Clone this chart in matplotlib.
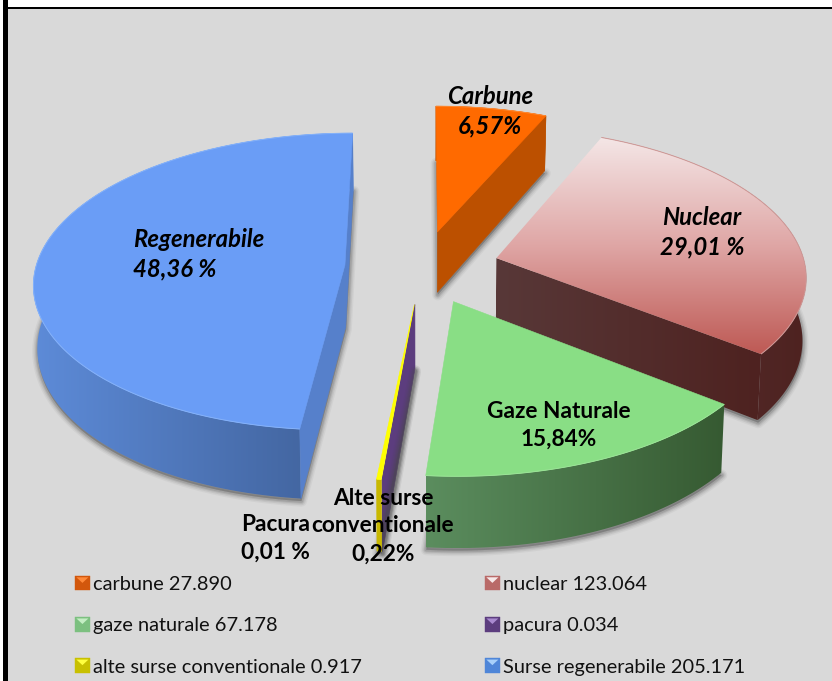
import numpy as np
import matplotlib
matplotlib.use("Agg")
import matplotlib.pyplot as plt
from matplotlib.patches import Polygon, Rectangle
from matplotlib.colors import to_rgb
from matplotlib.legend_handler import HandlerBase

# ---- data ----
series_names = ["carbune", "nuclear", "gaze naturale", "pacura",
                "alte surse conventionale", "Surse regenerabile"]
legend_values = ["27.890", "123.064", "67.178", "0.034", "0.917", "205.171"]
values = [27.890, 123.064, 67.178, 0.034, 0.917, 205.171]
slice_labels = ["Carbune\n6,57%", "Nuclear\n29,01 %", "Gaze Naturale\n15,84%",
                "Pacura\n0,01 %", "Alte surse\nconventionale\n0,22%",
                "Regenerabile\n48,36 %"]

# ---- projection / layout ----
W, H = 832, 681
CX, CY = 422, 267
A, B = 309, 147
K = 0.111
EXPLODE = 0.25
DEPTH = 62
BOTTOM_X = 0.99
BG = "#D9D9D9"
FONT = "Lato"

fig = plt.figure(figsize=(W / 100, H / 100), dpi=100, facecolor="white")
ax = fig.add_axes([0, 0, 1, 1])
ax.set_xlim(0, W)
ax.set_ylim(H, 0)
ax.axis("off")


def project(X, Y, z=0.0):
    s = 1.0 / (1.0 + K * Y)
    x = CX + A * X * s
    y = CY - B * Y * s + z * DEPTH * s
    if z:
        x = CX + (x - CX) * BOTTOM_X
    return np.column_stack([np.atleast_1d(x), np.atleast_1d(y)])


def slice_geom(t0, t1):
    mid = np.radians((t0 + t1) / 2)
    ex, ey = EXPLODE * np.sin(mid), EXPLODE * np.cos(mid)
    th = np.radians(np.linspace(t0, t1, max(3, int((t1 - t0) * 2))))
    X, Y = ex + np.sin(th), ey + np.cos(th)
    return (ex, ey), X, Y


def grad_fill(pts, stops, axis="x", z=1):
    """Fill polygon pts with a linear gradient along x or y."""
    pts = np.asarray(pts)
    x0, y0 = pts.min(axis=0)
    x1, y1 = pts.max(axis=0)
    n = 128
    t = np.linspace(0, 1, n)
    pos = np.linspace(0, 1, len(stops))
    rgb = np.array([to_rgb(c) for c in stops])
    col = np.column_stack([np.interp(t, pos, rgb[:, i]) for i in range(3)])
    img = col[None, :, :] if axis == "x" else col[:, None, :]
    im = ax.imshow(img, extent=(x0, x1, y1, y0), origin="upper",
                   aspect="auto", zorder=z, interpolation="bilinear")
    patch = Polygon(pts, closed=True, transform=ax.transData, fc="none", ec="none")
    ax.add_patch(patch)
    im.set_clip_path(patch)
    patch.set_zorder(z)


def flat(pts, color, z=1, lw=0.4):
    ax.add_patch(Polygon(pts, closed=True, fc=color, ec=color, lw=lw, zorder=z))


def shadow(apex, X, Y, z):
    pts = np.vstack([project(*apex, 1.0), project(X, Y, 1.0)]) + np.array([0.5, 2.5])
    for lw, al in [(8, 0.06), (6, 0.09), (4, 0.13), (2.5, 0.17)]:
        ax.add_patch(Polygon(pts, closed=True, fc="#4A4A4A", ec="#4A4A4A",
                             lw=lw, alpha=al, zorder=z, joinstyle="round"))


styles = [
    dict(top=["#FF6A00"], edge="#FF8A33", outer=["#BC5000"], start=None, end=["#BC5000"]),
    dict(top=["#F4E6E6", "#DFA6A5", "#BE5A55"], edge="#D09A98", outer=["#583333", "#4E2220"],
         start=None, end=["#583838", "#4E2220"]),
    dict(top=["#89DE85"], edge="#9BE497", outer=["#5B8D5E", "#365A32"], start=None, end=None),
    dict(top=["#5C3D7E"], edge="#5C3D7E", outer=["#5C3D7E"], start=["#5C3D7E"], end=None),
    dict(top=["#FFFF00"], edge="#FFFF00", outer=["#C8B800"], start=None, end=None),
    dict(top=["#6A9DF6"], edge="#85B2FA", outer=["#5D8BD8", "#3F6098"],
         start=["#5680CB"], end=["#5680CB"]),
]

# angles clockwise from 12 o'clock, driven by the values
total = sum(values)
angles = np.concatenate([[0], np.cumsum(values) / total * 360])
geoms = [slice_geom(angles[i], angles[i + 1]) for i in range(len(values))]

draw_order = [0, 1, 5, 3, 4, 2]
for rank, i in enumerate(draw_order):
    apex, X, Y = geoms[i]
    st = styles[i]
    base = 2 + rank * 10
    shadow(apex, X, Y, base)
    top_arc = project(X, Y)
    bot_arc = project(X, Y, 1.0)
    ap_t = project(*apex)
    ap_b = project(*apex, 1.0)
    # outer wall
    wall = np.vstack([top_arc, bot_arc[::-1]])
    if len(st["outer"]) == 1:
        flat(wall, st["outer"][0], base + 1)
    else:
        grad_fill(wall, st["outer"], "x", base + 1)
    # radial walls
    for key, idx in (("start", 0), ("end", -1)):
        if st[key] is None:
            continue
        quad = np.vstack([ap_t, top_arc[idx], bot_arc[idx], ap_b])
        if len(st[key]) == 1:
            flat(quad, st[key][0], base + 2)
        else:
            grad_fill(quad, st[key], "x", base + 2)
    # top face
    face = np.vstack([ap_t, top_arc])
    if len(st["top"]) == 1:
        flat(face, st["top"][0], base + 3)
    else:
        grad_fill(face, st["top"], "y", base + 3)
    ax.plot(top_arc[:, 0], top_arc[:, 1], color=st["edge"], lw=0.7, zorder=base + 4,
            solid_capstyle="butt")

ax.set_xlim(0, W)
ax.set_ylim(H, 0)

# ---- data labels ----
label_pos = [(490, 111, "center"), (702, 232, "center"), (559, 425, "center"),
             (241, 538, "left"), (383, 526, "center"), (133, 254, "left")]
label_italic = [True, True, False, False, False, True]
for txt, (x, y, ha), it in zip(slice_labels, label_pos, label_italic):
    ax.text(x, y, txt, ha=ha, va="center", ma=ha if ha == "left" else "center",
            fontsize=17.2 if it else 16.3, fontweight="bold",
            fontstyle="italic" if it else "normal",
            family=FONT, color="black", zorder=200, linespacing=1.32 if it else 1.4)


# ---- legend ----
class BevelHandler(HandlerBase):
    def __init__(self, dark, light):
        super().__init__()
        self.dark, self.light = dark, light

    def create_artists(self, legend, orig, xd, yd, w, h, fontsize, trans):
        s = 10.3
        x0, y0 = -xd + w - s, -yd + h / 2 - s / 2
        sq = Rectangle((x0, y0), s, s, fc=self.dark, ec=self.dark, lw=0.3, transform=trans)
        tri = Polygon([(x0 + 0.8, y0 + s - 0.8), (x0 + s - 0.8, y0 + s - 0.8),
                       (x0 + s / 2, y0 + s / 2 + 0.3)],
                      closed=True, fc=self.light, ec="none", transform=trans)
        return [sq, tri]


bevel = [("#D2570C", "#FF8A3A"), ("#B96A68", "#F6E8E8"), ("#7CC080", "#C4EEC4"),
         ("#5C3D7E", "#A98AD0"), ("#C8C000", "#FFFF40"), ("#4F86D8", "#A8D0FA")]
handles = [Rectangle((0, 0), 1, 1, label=f"{n} {v}") for n, v in zip(series_names, legend_values)]
legend_order = [0, 2, 4, 1, 3, 5]
leg = ax.legend([handles[i] for i in legend_order],
                [handles[i].get_label() for i in legend_order],
                handler_map={handles[i]: BevelHandler(*bevel[i]) for i in range(6)},
                ncol=2, frameon=False, loc="upper left",
                bbox_to_anchor=(69.5 / W, 1 - 576.3 / H), bbox_transform=fig.transFigure,
                prop={"family": FONT, "size": 14.45}, labelspacing=1.2,
                handlelength=1.0, handletextpad=0.17, columnspacing=5.86,
                borderpad=0, borderaxespad=0, labelcolor="#111111")
leg.set_zorder(150)

# ---- frame ----
ax.add_patch(Rectangle((8, 8), W - 8, H - 8, fc=BG, ec="none", zorder=0))
ax.add_patch(Rectangle((3, 0), 5, H, fc="black", ec="none", zorder=300))
ax.add_patch(Rectangle((8, 7), W - 8, 1.6, fc="black", ec="none", zorder=300))

fig.savefig("out.png", dpi=100, facecolor="white")
